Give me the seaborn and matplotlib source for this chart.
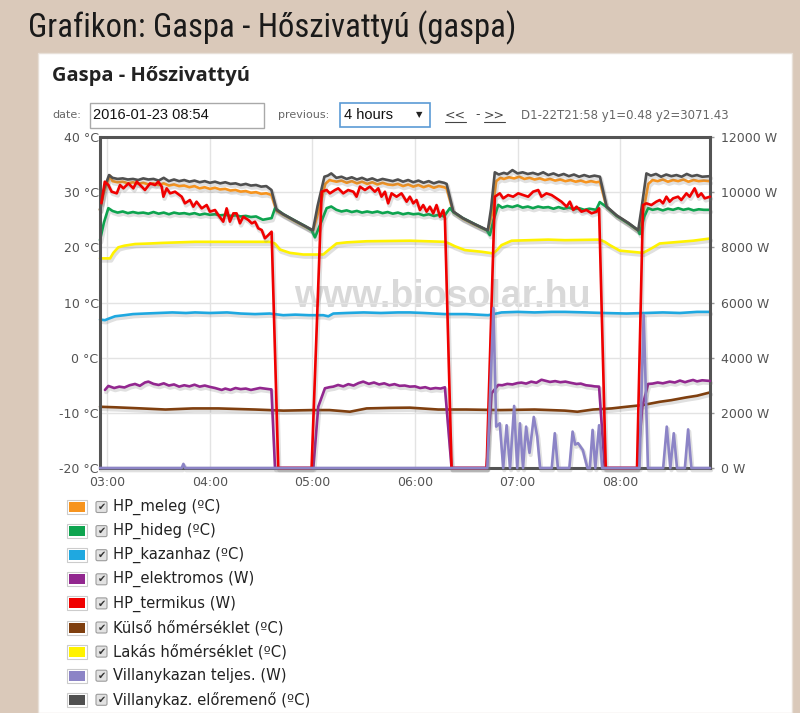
import matplotlib
matplotlib.use("Agg")
import numpy as np
import pandas as pd
import matplotlib.pyplot as plt
import matplotlib.patheffects as pe
from matplotlib.patches import Rectangle, FancyBboxPatch
import seaborn as sns

# ----------------------------------------------------------------------------
# Adatok (ido: perc 00:00 ota)
# ----------------------------------------------------------------------------
t_eloremeno = [175.7, 178, 181, 183, 186, 189, 192, 195, 198, 201, 204, 207, 210, 213, 216, 219, 222,
               225, 228, 231, 234, 237, 240, 243, 246, 249, 252, 255, 258, 261, 264, 267, 270, 273,
               276, 279, 283, 290, 296, 300.3, 303, 307, 309, 311, 314, 317, 320, 323, 326, 329, 332,
               335, 338, 341, 344, 347, 350, 353, 356, 359, 362, 365, 368, 371, 374, 377, 378.5,
               382.4, 388, 395, 402.6, 404.5, 406.7, 409, 412, 414, 417, 420, 423, 426, 429, 432, 435,
               438, 441, 444, 447, 450, 453, 456, 459, 462, 465, 468.2, 472.1, 478, 485, 490.6, 492.5,
               495.4, 498, 501, 504, 507, 510, 513, 516, 519, 522, 525, 528, 532.6]
v_eloremeno = [26.8, 30.5, 33.1, 32.6, 32.4, 32.5, 32.3, 32.4, 32.2, 32.5, 32.3, 32.4, 32.1, 32.6, 32.0,
               32.3, 32.0, 32.2, 31.9, 32.1, 31.8, 32.0, 31.7, 31.9, 31.6, 31.8, 31.5, 31.6, 31.3, 31.5,
               31.2, 31.3, 31.0, 31.1, 30.4, 26.8, 26.0, 24.8, 23.8, 23.1, 27.5, 32.8, 33.0, 33.4, 32.6,
               32.8, 32.4, 32.7, 32.3, 32.6, 32.2, 32.5, 32.1, 32.4, 32.2, 32.0, 32.3, 31.9, 32.2, 31.8,
               32.1, 31.7, 32.0, 31.6, 31.9, 31.7, 31.5, 26.5, 25.3, 24.2, 23.1, 27.0, 33.6, 33.2, 33.5,
               33.3, 34.0, 33.4, 33.6, 33.3, 33.5, 33.2, 33.6, 33.1, 33.4, 33.0, 33.3, 32.9, 33.2, 32.8,
               33.1, 32.8, 33.0, 32.8, 27.4, 25.8, 24.4, 23.1, 27.0, 33.4, 33.0, 33.3, 32.8, 33.2, 32.9,
               33.1, 32.8, 33.3, 32.9, 33.1, 32.8, 32.9]

t_meleg = [175.7, 178, 181.5, 183, 186, 189, 192, 195, 198, 201, 204, 207, 210, 213, 216, 219, 222, 225,
           228, 231, 234, 237, 240, 243, 246, 249, 252, 255, 258, 261, 264, 267, 270, 273, 276, 279,
           283, 290, 296, 300.3, 303.5, 307.5, 310, 314, 317, 320, 323, 326, 329, 332, 335, 338, 341,
           344, 347, 350, 353, 356, 359, 362, 365, 368, 371, 374, 377, 378.5, 382.4, 388, 395, 402.6,
           405, 407.5, 410, 412, 415, 418, 421, 424, 427, 430, 433, 436, 439, 442, 445, 448, 451, 454,
           457, 460, 463, 466, 468.2, 472.1, 478, 485, 490.6, 493, 496.5, 499, 502, 505, 508, 511, 514,
           517, 520, 523, 526, 529, 532.6]
v_meleg = [26.8, 30.0, 33.0, 32.0, 31.8, 31.9, 31.6, 31.8, 31.5, 31.7, 31.4, 31.6, 31.3, 31.6, 31.2, 31.4,
           31.1, 31.2, 30.9, 31.1, 30.7, 30.9, 30.6, 30.8, 30.5, 30.6, 30.3, 30.4, 30.1, 30.2, 29.9, 30.0,
           29.7, 29.8, 29.5, 26.6, 25.9, 24.7, 23.7, 23.0, 26.5, 31.5, 32.2, 31.9, 32.1, 31.7, 32.0, 31.6,
           31.9, 31.5, 31.8, 31.4, 31.7, 31.4, 31.3, 31.5, 31.1, 31.4, 31.0, 31.3, 30.9, 31.2, 30.8, 31.1,
           30.9, 30.7, 26.4, 25.2, 24.1, 23.0, 26.0, 32.0, 32.6, 32.4, 32.7, 32.5, 32.8, 32.4, 32.6, 32.3,
           32.5, 32.2, 32.4, 32.1, 32.3, 32.0, 32.2, 31.9, 32.1, 31.8, 32.0, 31.8, 31.9, 27.3, 25.7, 24.3,
           23.0, 25.5, 31.5, 32.2, 32.0, 32.3, 31.9, 32.2, 32.0, 32.3, 31.9, 32.2, 32.0, 32.1, 32.0]

t_hideg = [175.7, 178, 180.6, 183, 186, 189, 192, 195, 198, 201, 204, 207, 210, 213, 216, 219, 222, 225,
           228, 231, 234, 237, 240, 243, 246, 249, 252, 255, 258, 261, 264, 267, 271, 276.1, 278.1, 283,
           290, 296, 299.5, 301.5, 305, 308.3, 311, 314, 317, 320, 323, 326, 329, 332, 335, 338, 341, 344,
           347, 350, 353, 356, 359, 362, 365, 368, 371, 374, 377, 380.4, 382.4, 388, 395, 402, 403.8, 406,
           408.7, 411, 414, 417, 420, 423, 426, 429, 432, 435, 438, 441, 444, 447, 450, 453, 456, 459, 462,
           466, 468.1, 472.1, 478, 485, 490.5, 491.5, 494, 496.4, 499, 502, 505, 508, 511, 514, 517, 520,
           523, 526, 529, 532.6]
v_hideg = [21.3, 24.5, 27.1, 26.6, 26.3, 26.5, 26.2, 26.4, 26.2, 26.3, 26.1, 26.4, 26.1, 26.3, 26.0, 26.3,
           26.1, 26.2, 26.0, 26.2, 25.9, 26.1, 25.9, 26.0, 25.8, 25.9, 25.7, 25.8, 25.6, 25.7, 25.5, 25.6,
           25.0, 25.3, 27.1, 26.0, 24.8, 23.8, 23.1, 21.8, 24.5, 27.1, 27.4, 26.8, 26.5, 26.7, 26.4, 26.6,
           26.3, 26.5, 26.3, 26.5, 26.2, 26.4, 26.1, 26.3, 26.0, 26.2, 26.0, 26.1, 25.8, 26.0, 25.7, 25.9,
           25.6, 27.1, 26.4, 25.3, 24.2, 23.1, 22.2, 25.0, 27.7, 27.2, 27.5, 27.3, 27.6, 27.2, 27.4, 27.1,
           27.4, 27.2, 27.3, 27.0, 27.3, 27.0, 27.2, 26.9, 27.1, 26.8, 27.0, 26.8, 28.2, 27.3, 25.7, 24.3,
           23.1, 22.4, 25.5, 27.1, 26.8, 27.0, 26.7, 27.0, 26.8, 27.1, 26.8, 27.0, 26.7, 26.9, 26.8, 26.8]

t_kazanhaz = [175.7, 178.6, 181, 184.5, 190, 195, 202, 210, 218, 226, 231.3, 240, 250, 258, 266.4, 275,
              282.9, 290, 298, 306.3, 309.3, 312.2, 320, 330, 340, 350, 357, 365, 377.5, 390, 402.8, 406,
              410.6, 420, 430, 440, 447.7, 460, 470, 483.7, 495, 505, 515, 525, 532.6]
v_kazanhaz = [6.9, 6.8, 7.1, 7.5, 7.7, 7.9, 8.0, 8.1, 8.2, 8.1, 8.2, 8.1, 8.2, 8.0, 7.9, 8.0, 7.7, 7.8,
              7.7, 7.7, 7.5, 8.0, 8.1, 8.2, 8.1, 8.2, 8.2, 8.1, 7.9, 7.9, 7.7, 7.9, 8.2, 8.3, 8.2, 8.3,
              8.3, 8.2, 8.1, 8.0, 8.1, 8.2, 8.1, 8.3, 8.3]

t_kulso = [175.7, 185, 200, 214, 230, 245, 266.4, 283, 300, 310, 321.9, 331.7, 345, 357, 373.6, 390, 410,
           430, 447.7, 455, 464.2, 475, 483.7, 493, 503.2, 510, 518.8, 525, 532.6]
v_kulso = [-8.9, -9.0, -9.2, -9.4, -9.2, -9.2, -9.4, -9.6, -9.5, -9.5, -9.8, -9.2, -9.1, -9.06, -9.4, -9.4,
           -9.5, -9.4, -9.6, -9.8, -9.4, -9.2, -8.9, -8.6, -8.0, -7.7, -7.2, -6.9, -6.3]

t_lakas = [175.7, 181.6, 183.5, 186.4, 190, 196.2, 205, 211.8, 231.3, 250, 266.4, 275.1, 278, 281.0, 286.8,
           294.6, 306.3, 309.3, 314.1, 320, 331.7, 357.0, 377.5, 380, 383.3, 389.2, 398.9, 405.7, 408,
           410.6, 416.5, 437.9, 447.7, 468.1, 471, 474.0, 479.8, 493.4, 498.3, 503.2, 522.7, 532.6]
v_lakas = [18.0, 18.0, 19.0, 20.0, 20.3, 20.6, 20.7, 20.8, 21.0, 21.0, 21.0, 21.0, 20.7, 19.6, 19.0, 18.7,
           18.7, 19.5, 20.7, 20.9, 21.1, 21.2, 21.0, 20.7, 20.2, 19.5, 19.2, 18.9, 19.5, 20.4, 21.2, 21.4,
           21.3, 21.4, 21.0, 20.4, 19.4, 19.0, 19.8, 20.7, 21.2, 21.6]

t_elektromos = [178.6, 180.6, 184, 187, 190, 193, 196.2, 199, 202, 204, 207, 210, 213, 216, 219, 222, 225,
                228, 231, 234, 237, 240, 243, 246.9, 249, 252, 255, 258, 261, 264, 269.3, 275.1, 276,
                278.1, 300.5, 303.4, 307.3, 310, 312.2, 315, 318, 321, 324, 327, 329.7, 333, 336, 339, 342,
                345, 348, 351, 354, 357, 360, 363, 366, 369, 372, 375, 377.5, 381.4, 401.9, 404.8, 408.7,
                411, 414, 417, 420, 422.3, 425, 428, 431, 434, 436, 439, 442, 445, 448, 451, 454.5, 457,
                460, 463, 465, 467.7, 471, 490, 493.0, 496.4, 499, 502, 505, 509, 512, 515, 518, 520,
                522.7, 525, 528, 532.6]
v_elektromos = [2830, 2975, 2900, 2950, 2920, 3000, 3047, 2980, 3100, 3132, 3050, 3011, 3070, 2990, 3030,
                2950, 3000, 2960, 3020, 2950, 2990, 2940, 2900, 2830, 2880, 2830, 2900, 2860, 2880, 2830,
                2902, 2854, 2850, 0, 0, 2226, 2890, 2930, 2950, 3010, 2960, 3040, 2990, 3080, 3132, 3050,
                3100, 3030, 3070, 3000, 3040, 2980, 2990, 2950, 2960, 2900, 2930, 2870, 2900, 2880, 2926,
                0, 0, 2709, 3011, 3000, 3050, 3030, 3080, 3096, 3060, 3130, 3090, 3200, 3168, 3120, 3150,
                3110, 3132, 3090, 3047, 3060, 3000, 2980, 2960, 2950, 0, 0, 2226, 3047, 3060, 3100, 3070,
                3132, 3100, 3170, 3110, 3150, 3192, 3140, 3180, 3156]

t_termikus = [176.5, 178.5, 180.6, 182.5, 185.5, 187.4, 189.4, 192.3, 195.2, 197.2, 200.1, 202.0,
              205.0, 207.9, 209.8, 211.8, 212.8, 214.7, 216.7, 219.6, 223.5, 225.4, 228.3, 230.3, 232.2,
              235.2, 238.1, 240.0, 243.0, 244.9, 247.8, 249.8, 251.7, 253.7, 255.6, 257.6, 259.5, 262.5,
              264.5, 266.4, 268.3, 270.3, 272.2, 274.2, 276.1, 280.0, 299.5, 305.4, 308.3, 310.2, 313.2,
              315.1, 318.0, 320.9, 323.9, 325.8, 327.8, 330.7, 333.6, 336.5, 338.5, 340.4, 342.4, 344.3,
              346.3, 349.2, 352.1, 355.1, 357.0, 359.0, 360.9, 362.9, 364.8, 366.8, 368.7, 370.7, 372.6,
              374.6, 376.5, 377.5, 381.4, 401.9, 406.7, 409.6, 411.6, 414.5, 417.4, 420.4, 423.3, 426.2,
              429.1, 432.1, 434.0, 436.9, 439.9, 442.8, 445.7, 448.7, 450.6, 452.6, 454.5, 457.4, 460.3,
              463.3, 466.2, 467.7, 471.6, 489.9, 493.4, 495.4, 498.3, 501.2, 503.2, 505.1, 507.1, 509.0,
              511.0, 513.9, 515.8, 518.8, 520.7, 523.6, 525.6, 527.5, 529.5, 532.6]
v_termikus = [9600, 10380, 10260, 10017, 9957, 10259, 10138, 10319, 10138, 10380, 10199, 10078, 10319,
              10259, 10380, 10199, 9836, 10138, 9957, 10017, 9836, 9595, 9715, 9474, 9655, 9413, 9534,
              9293, 9353, 9172, 8930, 9413, 8930, 9232, 9232, 8870, 9111, 8990, 8870, 8930, 8689, 8628,
              8326, 8446, 8567, 0, 0, 10017, 10078, 9957, 10078, 10138, 9957, 10078, 10017, 9836, 10199,
              10078, 10199, 10017, 10138, 9836, 10017, 9595, 9957, 9836, 9957, 9655, 9836, 9595, 9715,
              9353, 9534, 9293, 9474, 9232, 9534, 9111, 9353, 9051, 0, 0, 9836, 9957, 9776, 9896, 9836,
              9957, 9896, 9836, 10017, 10078, 9836, 9957, 9896, 9776, 9655, 9474, 9656, 9354, 9474, 9293,
              9354, 9233, 9293, 9414, 0, 0, 9534, 9595, 9534, 9655, 9715, 9595, 9836, 9655, 9776, 9836,
              9715, 9957, 9836, 10138, 9836, 9957, 9776, 9836]

t_villanykazan = [175.7, 223.5, 224.5, 225.5, 402.3, 405.9, 407.5, 409.6, 411.6, 413.6, 415.6, 418.0,
                  419.8, 421.4, 423.2, 425.0, 427.0, 429.5, 431.5, 433.2, 440.0, 441.8, 443.6, 450.3,
                  452.2, 453.7, 455.4, 458.2, 460.9, 462.3, 463.9, 465.5, 467.7, 469.5, 491.3, 493.8,
                  496.3, 505.2, 507.3, 509.4, 511.4, 513.3, 517.9, 519.8, 521.7, 532.6]
v_villanykazan = [0, 0, 150, 0, 0, 5800, 1500, 1620, 0, 1550, 0, 2250, 0, 1620, 0, 1500, 550, 1850, 1150,
                  0, 0, 1260, 0, 0, 1320, 850, 900, 650, 0, 0, 1380, 0, 1550, 0, 0, 5550, 0, 0, 1500, 0,
                  1260, 0, 0, 1400, 0, 0]

sorozat_nevek = ["HP_meleg (ºC)", "HP_hideg (ºC)", "HP_kazanhaz (ºC)", "HP_elektromos (W)",
                 "HP_termikus (W)", "Külső hőmérséklet (ºC)", "Lakás hőmérséklet (ºC)",
                 "Villanykazan teljes. (W)", "Villanykaz. előremenő (ºC)"]
sorozat_szinek = ["#f7941e", "#0ea44f", "#1fa8e0", "#92278f", "#f00000", "#7f3f0f", "#fff200",
                  "#8c84c6", "#505050"]

x_tick_pos = [180, 240, 300, 360, 420, 480]
x_tick_labels = ["03:00", "04:00", "05:00", "06:00", "07:00", "08:00"]
y1_ticks = [-20, -10, 0, 10, 20, 30, 40]
y1_labels = ["-20 °C", "-10 °C", "0 °C", "10 °C", "20 °C", "30 °C", "40 °C"]
y2_ticks = [0, 2000, 4000, 6000, 8000, 10000, 12000]
y2_labels = ["0 W", "2000 W", "4000 W", "6000 W", "8000 W", "10000 W", "12000 W"]

# ----------------------------------------------------------------------------
# Rajzolas
# ----------------------------------------------------------------------------
sns.set_theme(style="white")
plt.rcParams['font.family'] = ['DejaVu Sans']

W, H = 800, 713
def fx(px):
    return px / W
def fy(py):
    return 1 - py / H

fig = plt.figure(figsize=(8, 7.13), dpi=100)
fig.patch.set_facecolor("#dac9ba")
fig.patches.append(Rectangle((fx(38), 0), fx(792) - fx(38), fy(53), transform=fig.transFigure,
                             facecolor="white", edgecolor="#e8e0d8", lw=1, zorder=-5))

# oldal cim es urlap
fig.text(fx(28), fy(28), "Grafikon: Gaspa - Hőszivattyú (gaspa)", fontsize=23.5, va="center",
         family=["Roboto Condensed", "Open Sans Condensed", "Liberation Sans Narrow", "DejaVu Sans"],
         color="#1a1a1a")
fig.text(fx(52), fy(76), "Gaspa - Hőszivattyú", fontsize=14.5, fontweight="bold", va="center",
         family=["Open Sans", "DejaVu Sans"], color="#222")

form_y = fy(115)
fig.text(fx(52), form_y, "date:", fontsize=8, va="center", color="#666")
fig.patches.append(Rectangle((fx(90), fy(128)), fx(264) - fx(90), fy(103) - fy(128),
                             transform=fig.transFigure, facecolor="white", edgecolor="#a9a9a9", lw=1))
fig.text(fx(93), form_y, "2016-01-23 08:54", fontsize=10.5, va="center", family=["Liberation Sans"],
         color="#111")
fig.text(fx(278), form_y, "previous:", fontsize=8, va="center", color="#666")
fig.patches.append(Rectangle((fx(340), fy(127)), fx(430) - fx(340), fy(103) - fy(127),
                             transform=fig.transFigure, facecolor="white", edgecolor="#5b9bd5", lw=1.2))
fig.text(fx(344), form_y, "4 hours", fontsize=10.5, va="center", family=["Liberation Sans"], color="#111")
fig.text(fx(416), form_y, "▼", fontsize=6, va="center", color="#222")
fig.text(fx(445), form_y, "<<", fontsize=9, va="center", color="#444")
fig.text(fx(475), form_y, "-", fontsize=9, va="center", color="#444")
fig.text(fx(484), form_y, ">>", fontsize=9, va="center", color="#444")
for x0, x1 in [(445, 466), (484, 505)]:
    fig.lines.append(plt.Line2D([fx(x0), fx(x1)], [fy(122), fy(122)], transform=fig.transFigure,
                                color="#444", lw=0.8))
fig.text(fx(521), form_y, "D1-22T21:58 y1=0.48 y2=3071.43", fontsize=8.5, va="center", color="#666")

# diagram
ax = fig.add_axes([fx(100), fy(468), fx(710) - fx(100), fy(137) - fy(468)])
ax2 = ax.twinx()
ax.set_xlim(175.7, 532.6)
ax.set_ylim(-20, 40)
ax2.set_ylim(0, 12000)

ax.text(0.561, 0.486, "www.biosolar.hu", transform=ax.transAxes, ha="center", va="baseline",
        fontsize=27, fontweight="bold", family=["Liberation Sans"], color="#d9d9d9", zorder=0.5)

shadow = [pe.SimpleLineShadow(offset=(0.8, -1.6), shadow_color="0.45", alpha=0.22, linewidth=3),
          pe.Normal()]

bal = [(t_meleg, v_meleg, 0), (t_hideg, v_hideg, 1), (t_kazanhaz, v_kazanhaz, 2),
       (t_kulso, v_kulso, 5), (t_lakas, v_lakas, 6), (t_eloremeno, v_eloremeno, 8)]
jobb = [(t_elektromos, v_elektromos, 3), (t_termikus, v_termikus, 4),
        (t_villanykazan, v_villanykazan, 7)]

for t, v, i in bal:
    sns.lineplot(x=t, y=v, ax=ax, color=sorozat_szinek[i], lw=1.9, estimator=None, sort=False,
                 errorbar=None, legend=False, path_effects=shadow, clip_on=False)
for t, v, i in jobb:
    sns.lineplot(x=t, y=v, ax=ax2, color=sorozat_szinek[i], lw=1.9, estimator=None, sort=False,
                 errorbar=None, legend=False, path_effects=shadow, clip_on=False, zorder=3)

ax.set_xticks(x_tick_pos)
ax.set_xticklabels(x_tick_labels)
ax.set_yticks(y1_ticks)
ax.set_yticklabels(y1_labels)
ax2.set_yticks(y2_ticks)
ax2.set_yticklabels(y2_labels)
ax.grid(True, color="#e3e3e3", lw=1)
ax2.grid(False)
ax.set_axisbelow(True)
ax.set_facecolor("white")
for s in ax.spines.values():
    s.set_visible(False)
for s in ax2.spines.values():
    s.set_visible(True)
    s.set_color("#545454")
    s.set_linewidth(2.2)
ax.tick_params(axis="y", length=0, pad=1, labelsize=9, labelcolor="#545454")
ax.tick_params(axis="x", length=0, pad=6, labelsize=9, labelcolor="#545454")
ax2.tick_params(axis="y", length=3, width=1, color="#9a9a9a", pad=5, labelsize=9, labelcolor="#545454")
ax.set_xlabel("")
ax.set_ylabel("")
ax2.set_ylabel("")

# jelmagyarazat
for i, (nev, szin) in enumerate(zip(sorozat_nevek, sorozat_szinek)):
    yc = 507 + i * 24.1
    fig.patches.append(Rectangle((fx(67), fy(yc + 7)), fx(87) - fx(67), fy(yc - 7) - fy(yc + 7),
                                 transform=fig.transFigure, facecolor="white", edgecolor="#cccccc", lw=0.8))
    fig.patches.append(Rectangle((fx(69), fy(yc + 5)), fx(85) - fx(69), fy(yc - 5) - fy(yc + 5),
                                 transform=fig.transFigure, facecolor=szin, edgecolor="none"))
    fig.patches.append(FancyBboxPatch((fx(96), fy(yc + 5.5)), fx(107) - fx(96), fy(yc - 5.5) - fy(yc + 5.5),
                                      boxstyle="round,pad=0,rounding_size=0.002", transform=fig.transFigure,
                                      facecolor="#e2e2e2", edgecolor="#9c9c9c", lw=0.8))
    fig.text(fx(101.5), fy(yc), "✔", fontsize=7, ha="center", va="center", color="#333")
    fig.text(fx(113), fy(yc), nev, fontsize=10.6, va="center", color="#222")

fig.savefig("out.png", dpi=100, facecolor=fig.get_facecolor())
